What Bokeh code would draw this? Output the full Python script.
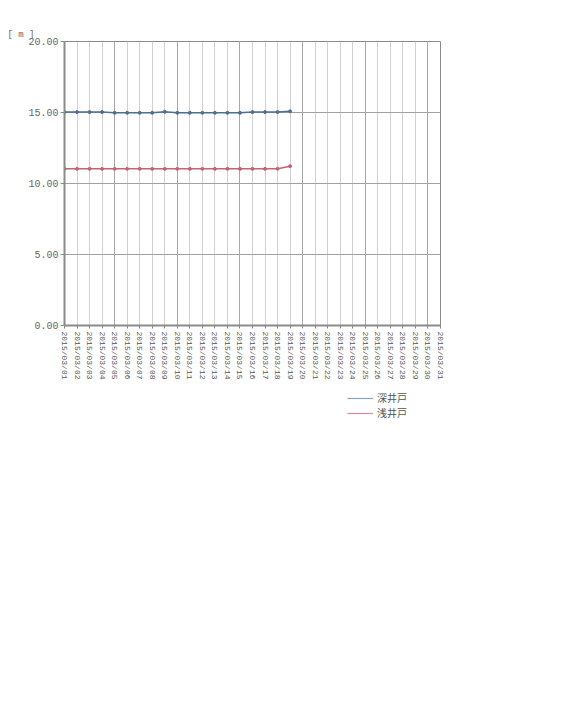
from bokeh.plotting import figure
from bokeh.layouts import column
from bokeh.models import FixedTicker, Grid, Legend, LegendItem, Range1d, PrintfTickFormatter
from bokeh.embed import file_html
from bokeh.resources import INLINE

dates = ["2015/03/01", "2015/03/02", "2015/03/03", "2015/03/04", "2015/03/05",
         "2015/03/06", "2015/03/07", "2015/03/08", "2015/03/09", "2015/03/10",
         "2015/03/11", "2015/03/12", "2015/03/13", "2015/03/14", "2015/03/15",
         "2015/03/16", "2015/03/17", "2015/03/18", "2015/03/19", "2015/03/20",
         "2015/03/21", "2015/03/22", "2015/03/23", "2015/03/24", "2015/03/25",
         "2015/03/26", "2015/03/27", "2015/03/28", "2015/03/29", "2015/03/30",
         "2015/03/31"]
measured = dates[:19]
deep_well = [15.03, 15.03, 15.03, 15.03, 14.98, 14.98, 14.98, 14.98, 15.05, 14.98,
             14.98, 14.98, 14.98, 14.98, 14.98, 15.03, 15.03, 15.03, 15.08]
shallow_well = [11.03, 11.03, 11.03, 11.03, 11.03, 11.03, 11.03, 11.03, 11.03, 11.03,
                11.03, 11.03, 11.03, 11.03, 11.03, 11.03, 11.03, 11.04, 11.22]
y_ticks = [0, 5, 10, 15, 20]
unit_label = "[ m ]"
series_names = ["深井戸", "浅井戸"]

x_all = [i + 1 for i in range(len(dates))]
x_meas = [dates.index(d) + 1 for d in measured]

p = figure(frame_width=376, frame_height=284, output_backend="svg", toolbar_location=None,
           x_range=Range1d(1, len(dates)), y_range=Range1d(0, 20),
           min_border_left=64, min_border_top=41, min_border_right=112,
           min_border_bottom=58)
p.outline_line_color = "#8a8a8a"
p.outline_line_width = 1

mono = "Liberation Mono"
p.title.text = unit_label
p.title.align = "left"
p.title.offset = -57
p.title.standoff = 3
p.title.text_font = mono
p.title.text_font_size = "9px"
p.title.text_font_style = "normal"
p.title.text_color = "#666666"

# x axis
p.xaxis.ticker = FixedTicker(ticks=x_all)
p.xaxis.major_label_overrides = {x: d for x, d in zip(x_all, dates)}
p.xaxis.major_label_orientation = "vertical"
p.xaxis.major_label_text_font = mono
p.xaxis.major_label_text_font_size = "8px"
p.xaxis.major_label_text_color = "#555555"
p.xaxis.major_label_standoff = 3
p.xaxis.major_tick_out = 3
p.xaxis.major_tick_in = 0
p.xaxis.minor_tick_line_color = None
p.xaxis.axis_line_color = "#8a8a8a"
p.xaxis.axis_line_width = 2
p.xaxis.major_tick_line_color = "#8a8a8a"

# y axis
p.yaxis.ticker = FixedTicker(ticks=y_ticks)
p.yaxis.formatter = PrintfTickFormatter(format="%.2f")
p.yaxis.major_label_text_font = mono
p.yaxis.major_label_text_font_size = "10px"
p.yaxis.major_label_text_color = "#666666"
p.yaxis.major_label_standoff = 2
p.yaxis.major_tick_out = 4
p.yaxis.major_tick_in = 0
p.yaxis.minor_tick_line_color = None
p.yaxis.axis_line_color = "#8a8a8a"
p.yaxis.axis_line_width = 2
p.yaxis.major_tick_line_color = "#8a8a8a"

# grids
p.xgrid.ticker = FixedTicker(ticks=x_all)
p.xgrid.grid_line_color = "#d2d2d2"
p.xgrid.grid_line_width = 1
major_days = [x for x in x_all if x % 5 == 0]
p.add_layout(Grid(dimension=0, ticker=FixedTicker(ticks=major_days),
                  grid_line_color="#a8a8a8", grid_line_width=1))
p.ygrid.ticker = FixedTicker(ticks=y_ticks[1:-1])
p.ygrid.grid_line_color = "#a0a0a0"

deep_color = "#4f6f92"
shallow_color = "#c46472"
p.line(x_meas, deep_well, line_color=deep_color, line_width=1.5)
p.scatter(x_meas, deep_well, size=3, color=deep_color)
p.line(x_meas, shallow_well, line_color=shallow_color, line_width=1.5)
p.scatter(x_meas, shallow_well, size=3, color=shallow_color)

# legend strip below the chart (its frame is aligned with the chart's frame)
lg = figure(width=552, height=50, output_backend="svg", toolbar_location=None,
            x_axis_location=None, y_axis_location=None, min_border=0,
            x_range=Range1d(1, len(dates)), y_range=Range1d(0, 20))
lg.outline_line_color = None
lg.grid.visible = False
r1 = lg.line(x_meas, deep_well, line_color="#86a3c0", line_width=1.2, visible=False)
r2 = lg.line(x_meas, shallow_well, line_color="#d28e9a", line_width=1.2, visible=False)
legend = Legend(items=[LegendItem(label=series_names[0], renderers=[r1]),
                       LegendItem(label=series_names[1], renderers=[r2])],
                location=(283, 13), orientation="vertical",
                label_text_font="Noto Sans CJK JP", label_text_font_size="10px",
                label_text_color="#555555", glyph_width=26, glyph_height=12,
                label_height=12, label_standoff=4, spacing=0,
                padding=0, margin=0, click_policy="none",
                border_line_color=None, background_fill_alpha=0)
lg.add_layout(legend)

layout = column(p, lg, spacing=0)
open("out.html", "w").write(file_html(layout, INLINE))
